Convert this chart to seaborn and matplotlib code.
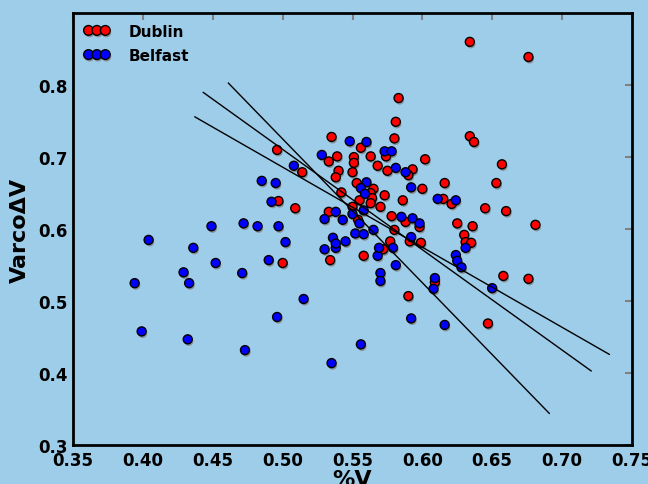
import numpy as np
import pandas as pd
import matplotlib
matplotlib.use("Agg")
import matplotlib.pyplot as plt
import matplotlib.patheffects as pe
from matplotlib.lines import Line2D
import seaborn as sns

# Dublin points (%V, VarcoDeltaV)
dublin_x = [0.634, 0.676, 0.634, 0.637, 0.657, 0.616, 0.653, 0.615, 0.621, 0.645,
            0.660, 0.625, 0.636, 0.681, 0.630, 0.631, 0.635, 0.658, 0.676, 0.647,
            0.534, 0.558, 0.577, 0.590, 0.599, 0.609, 0.497, 0.509, 0.500, 0.496,
            0.583, 0.581, 0.535, 0.580, 0.556, 0.539, 0.533, 0.551, 0.551, 0.563,
            0.574, 0.602, 0.514, 0.568, 0.540, 0.538, 0.550, 0.575, 0.593, 0.590,
            0.542, 0.553, 0.565, 0.573, 0.600, 0.563, 0.564, 0.555, 0.563, 0.570,
            0.550, 0.586, 0.533, 0.578, 0.588, 0.598, 0.580, 0.591, 0.572, 0.554]
dublin_y = [0.860, 0.839, 0.729, 0.721, 0.690, 0.664, 0.664, 0.642, 0.635, 0.629,
            0.625, 0.608, 0.604, 0.606, 0.592, 0.582, 0.581, 0.535, 0.531, 0.469,
            0.557, 0.563, 0.583, 0.507, 0.581, 0.526, 0.639, 0.629, 0.553, 0.710,
            0.782, 0.749, 0.728, 0.726, 0.713, 0.701, 0.694, 0.700, 0.692, 0.701,
            0.701, 0.697, 0.679, 0.688, 0.681, 0.672, 0.679, 0.681, 0.683, 0.675,
            0.651, 0.664, 0.656, 0.647, 0.656, 0.650, 0.643, 0.640, 0.636, 0.631,
            0.631, 0.640, 0.624, 0.618, 0.610, 0.603, 0.599, 0.583, 0.572, 0.613]

# Belfast points
belfast_x = [0.624, 0.631, 0.624, 0.625, 0.628, 0.650, 0.616, 0.530, 0.538, 0.568,
             0.569, 0.579, 0.581, 0.570, 0.570, 0.515, 0.592, 0.556, 0.535, 0.609,
             0.608, 0.485, 0.495, 0.492, 0.449, 0.472, 0.482, 0.497, 0.404, 0.502,
             0.436, 0.490, 0.452, 0.429, 0.471, 0.433, 0.394, 0.496, 0.399, 0.432,
             0.473, 0.508, 0.548, 0.560, 0.528, 0.573, 0.578, 0.581, 0.588, 0.560,
             0.556, 0.592, 0.559, 0.538, 0.550, 0.558, 0.530, 0.543, 0.555, 0.585,
             0.593, 0.598, 0.565, 0.552, 0.558, 0.536, 0.545, 0.592, 0.538, 0.611]
belfast_y = [0.640, 0.574, 0.564, 0.556, 0.547, 0.518, 0.467, 0.572, 0.574, 0.563,
             0.574, 0.574, 0.550, 0.539, 0.528, 0.503, 0.476, 0.440, 0.414, 0.532,
             0.517, 0.667, 0.664, 0.638, 0.604, 0.608, 0.604, 0.604, 0.585, 0.582,
             0.574, 0.557, 0.553, 0.540, 0.539, 0.525, 0.525, 0.478, 0.458, 0.447,
             0.432, 0.688, 0.722, 0.721, 0.703, 0.708, 0.708, 0.685, 0.679, 0.665,
             0.657, 0.658, 0.649, 0.624, 0.621, 0.626, 0.614, 0.613, 0.608, 0.617,
             0.615, 0.608, 0.599, 0.594, 0.593, 0.588, 0.583, 0.589, 0.580, 0.642]

# fitted lines (start / end)
fit_x = [[0.437, 0.734], [0.443, 0.721], [0.461, 0.691]]
fit_y = [[0.756, 0.426], [0.790, 0.403], [0.803, 0.344]]

xticks = [0.35, 0.40, 0.45, 0.50, 0.55, 0.60, 0.65, 0.70, 0.75]
yticks = [0.3, 0.4, 0.5, 0.6, 0.7, 0.8]

bg = "#9ecdea"

df = pd.concat([
    pd.DataFrame({"V": dublin_x, "VarcoDV": dublin_y, "city": "Dublin"}),
    pd.DataFrame({"V": belfast_x, "VarcoDV": belfast_y, "city": "Belfast"}),
], ignore_index=True)

sns.set_style("white")
plt.rcParams["font.family"] = ["DejaVu Sans"]
plt.rcParams["font.weight"] = "bold"
plt.rcParams["text.color"] = "black"
plt.rcParams["axes.labelcolor"] = "black"
plt.rcParams["xtick.labelcolor"] = "black"
plt.rcParams["ytick.labelcolor"] = "black"

fig = plt.figure(figsize=(6.48, 4.85), dpi=100, facecolor=bg)
ax = fig.add_axes([0.113, 0.080, 0.862, 0.891])
ax.set_facecolor(bg)

shadow = [pe.SimplePatchShadow(offset=(0.8, -1.5), shadow_rgbFace="gray", alpha=0.8), pe.Normal()]
palette = {"Dublin": "red", "Belfast": "blue"}

sns.scatterplot(data=df, x="V", y="VarcoDV", hue="city", palette=palette,
                s=42, edgecolor="black", linewidth=1.0, legend=False, ax=ax, zorder=2)
for coll in ax.collections:
    coll.set_path_effects(shadow)

for xs, ys in zip(fit_x, fit_y):
    ax.plot(xs, ys, color="black", lw=1.0, zorder=3)

ax.set_xlim(0.35, 0.75)
ax.set_ylim(0.3, 0.9)
ax.set_xticks(xticks)
ax.set_yticks(yticks)
ax.set_xticklabels([f"{t:.2f}" for t in xticks], fontsize=12, fontweight="bold")
ax.set_yticklabels([f"{t:.1f}" for t in yticks], fontsize=12, fontweight="bold")
ax.tick_params(direction="in", length=5, width=1.5, color="gray",
               labelcolor="black", top=True, right=True, pad=4)
for sp in ax.spines.values():
    sp.set_color("black")
    sp.set_linewidth(2)

ax.set_xlabel("%V", fontsize=16, fontweight="bold", labelpad=0, color="black")
ax.set_ylabel("Varco\u0394V", fontsize=16, fontweight="bold", labelpad=6, color="black")

handles = [Line2D([], [], ls="none", marker="o", markersize=7, markerfacecolor=c,
                  markeredgecolor="black", path_effects=shadow)
           for c in ["red", "blue"]]
leg = ax.legend(handles, ["Dublin", "Belfast"], loc="upper left", numpoints=3,
                frameon=False, prop={"weight": "bold", "size": 11},
                handlelength=1.7, handletextpad=1.2, borderaxespad=0.3,
                labelspacing=0.6)
for t in leg.get_texts():
    t.set_color("black")

fig.savefig("out.png", dpi=100, facecolor=bg)
